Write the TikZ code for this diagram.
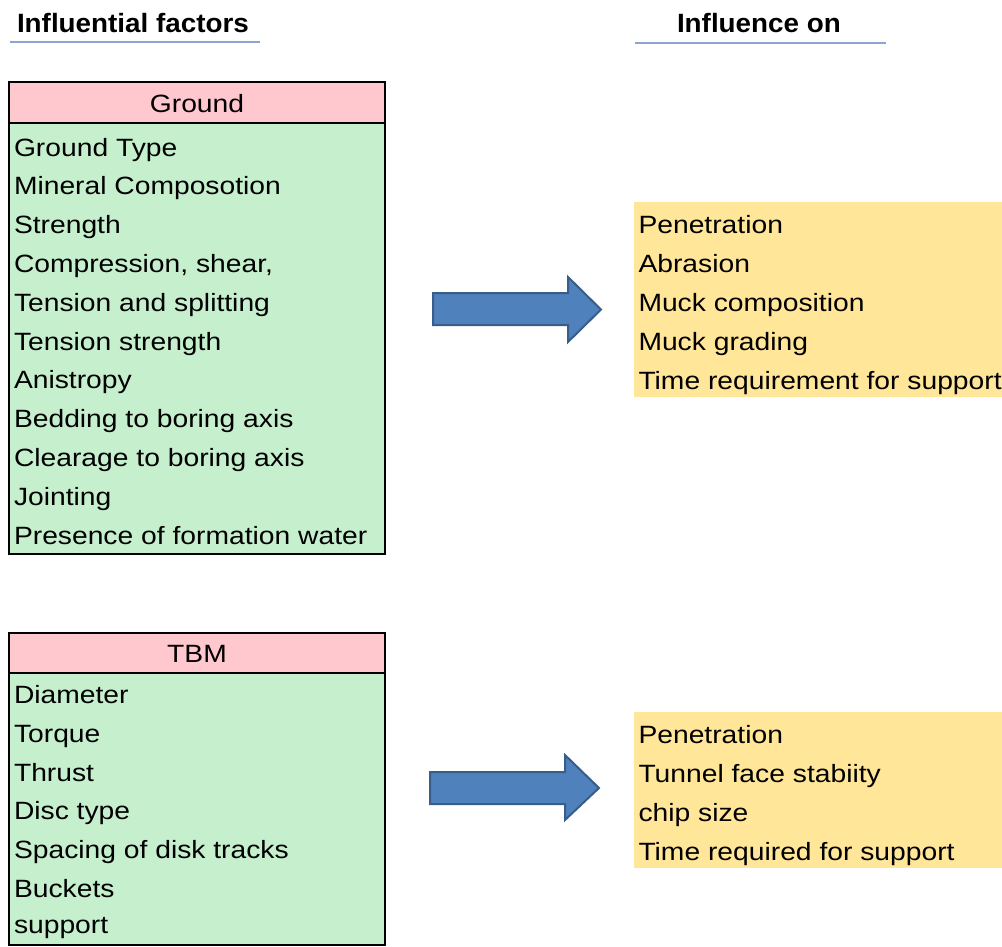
\documentclass[tikz,border=0pt]{standalone}
\usepackage{fontspec}
\setmainfont[FakeStretch=1.13]{Liberation Sans}
\newfontfamily\hdrfont[FakeStretch=1.05]{Liberation Sans}
\definecolor{pinkhd}{HTML}{FFC7CE}
\definecolor{greenbd}{HTML}{C6EFCE}
\definecolor{yellowbd}{HTML}{FFE699}
\definecolor{arrowfill}{HTML}{4F81BD}
\definecolor{arrowline}{HTML}{385D8A}
\definecolor{ulcol}{HTML}{8FA3CF}
\begin{document}
\begin{tikzpicture}[x=1pt,y=-1pt,
  every node/.style={inner sep=0pt,outer sep=0pt},
  txt/.style={anchor=base west,font=\fontsize{25}{30}\selectfont,text=black},
  hdrtxt/.style={anchor=base west,font=\hdrfont\bfseries\fontsize{26.5}{30}\selectfont},
  headbox/.style={draw=black,line width=2pt,fill=pinkhd,minimum width=376pt,minimum height=41pt},
  bodybox/.style={draw=black,line width=2pt,fill=greenbd,minimum width=376pt},
  yelbox/.style={fill=yellowbd,minimum width=368pt},
  uline/.style={draw=ulcol,line width=1.8pt},
  blockarrow/.style={fill=arrowfill,draw=arrowline,line width=2pt,line join=miter}]
\useasboundingbox (0,0) rectangle (1002,946);

% headers
\node[hdrtxt] (hleft) at (17,32) {Influential factors};
\node[hdrtxt] (hright) at (677,32) {Influence on};
\coordinate (ul1a) at (10,42); \coordinate (ul1b) at (260,42);
\coordinate (ul2a) at (635,43); \coordinate (ul2b) at (886,43);
\draw[uline] (ul1a) -- (ul1b);
\draw[uline] (ul2a) -- (ul2b);

% Ground box
\node[bodybox,minimum height=431pt] (gbody) at (197,338.5) {};
\node[headbox] (ghead) at (197,102.5) {};
\node[txt,anchor=base] (ghtxt) at (197,112) {Ground};
\foreach \t [count=\i] in {Ground Type,Mineral Composotion,Strength,{Compression, shear,},Tension and splitting,Tension strength,Anistropy,Bedding to boring axis,Clearage to boring axis,Jointing,Presence of formation water}{
  \node[txt] (g\i) at (14,{156+38.8*(\i-1)}) {\t};
}

% TBM box
\node[bodybox,minimum height=272pt] (tbody) at (197,809) {};
\node[headbox,minimum height=40pt] (thead) at (197,653) {};
\node[txt,anchor=base] (thtxt) at (197,662) {TBM};
\foreach \t/\y [count=\i] in {Diameter/703,Torque/742,Thrust/781,Disc type/819.5,Spacing of disk tracks/858,Buckets/897,support/933}{
  \node[txt] (t\i) at (14,\y) {\t};
}

% yellow boxes
\node[yelbox,minimum height=195pt] (y1) at (818,299.5) {};
\foreach \t [count=\i] in {Penetration,Abrasion,Muck composition,Muck grading,Time requirement for support}{
  \node[txt] (ya\i) at (638.5,{233+39*(\i-1)}) {\t};
}
\node[yelbox,minimum height=156pt] (y2) at (818,790) {};
\foreach \t [count=\i] in {Penetration,Tunnel face stabiity,chip size,Time required for support}{
  \node[txt] (yb\i) at (638.5,{743+39*(\i-1)}) {\t};
}

% block arrows
\draw[blockarrow] (433,293) -- (568,293) -- (568,277) -- (601,309.5) -- (568,342) -- (568,325) -- (433,325) -- cycle;
\draw[blockarrow] (430,772) -- (565,772) -- (565,755) -- (599,788) -- (565,820) -- (565,804) -- (430,804) -- cycle;
\end{tikzpicture}
\end{document}
